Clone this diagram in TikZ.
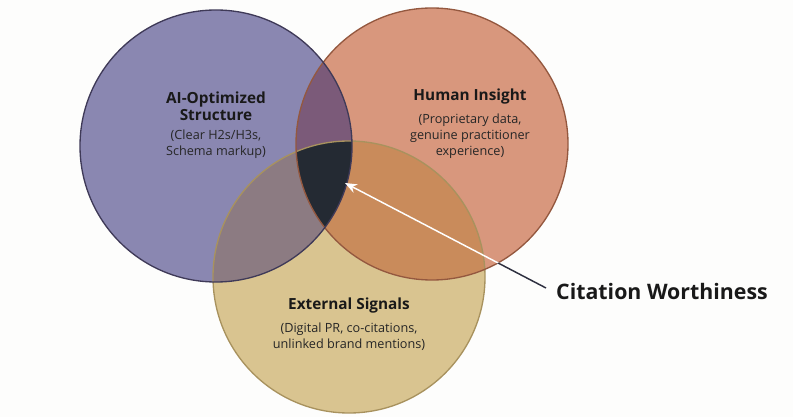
\documentclass[tikz,border=0pt]{standalone}
\usepackage{fontspec}
\setmainfont{Open Sans}
\usetikzlibrary{positioning}
\usetikzlibrary{arrows.meta}

\definecolor{paper}{HTML}{FDFDFC}
\definecolor{aiCol}{HTML}{8A87B1}
\definecolor{humCol}{HTML}{D8977D}
\definecolor{extCol}{HTML}{D9C490}
\definecolor{aiHum}{HTML}{7B5A79}
\definecolor{aiExt}{HTML}{8C7B82}
\definecolor{humExt}{HTML}{C98B5B}
\definecolor{coreCol}{HTML}{242A33}
\definecolor{aiRim}{HTML}{3F3A58}
\definecolor{humRim}{HTML}{94583F}
\definecolor{extRim}{HTML}{A8925E}
\definecolor{pointer}{HTML}{2E3040}

\tikzset{
  title/.style={font=\bfseries\fontsize{11.5}{13}\selectfont, text=black!90, align=center},
  sub/.style={font=\fontsize{9.5}{12}\selectfont, text=black!85, align=center},
  rim/.style={line width=1pt}
}

\begin{document}
\begin{tikzpicture}[x=0.75pt,y=-0.75pt]
  \fill[paper] (0,0) rectangle (793,417);
  \useasboundingbox (0,0) rectangle (793,417);
  % circle centres and radius
  \def\rad{136}
  \coordinate (ai) at (216,146);
  \coordinate (hum) at (432,144);
  \coordinate (ext) at (349,277);

  \fill[aiCol] (ai) circle (\rad);
  \fill[humCol] (hum) circle (\rad);
  \fill[extCol] (ext) circle (\rad);

  % pairwise overlaps
  \begin{scope}
    \clip (ai) circle (\rad);
    \fill[aiHum] (hum) circle (\rad);
    \fill[aiExt] (ext) circle (\rad);
  \end{scope}
  \begin{scope}
    \clip (hum) circle (\rad);
    \fill[humExt] (ext) circle (\rad);
  \end{scope}
  % core
  \begin{scope}
    \clip (ai) circle (\rad);
    \clip (hum) circle (\rad);
    \fill[coreCol] (ext) circle (\rad);
  \end{scope}

  \draw[rim, draw=extRim] (ext) circle (\rad);
  \draw[rim, draw=humRim] (hum) circle (\rad);
  \draw[rim, draw=aiRim] (ai) circle (\rad);

  % labels
  \node[title] (aiT) at (216,106) {AI-Optimized\\Structure};
  \node[sub, below=0pt of aiT] (aiS) {(Clear H2s/H3s,\\Schema markup)};
  \node[title] (humT) at (470,97) {Human Insight};
  \node[sub, below=0pt of humT] (humS) {(Proprietary data,\\genuine practitioner\\experience)};
  \node[title] (extT) at (349,306) {External Signals};
  \node[sub, below=0pt of extT] (extS) {(Digital PR, co-citations,\\unlinked brand mentions)};

  \node[font=\bfseries\fontsize{16}{19}\selectfont, text=black!90] (cite) at (662,292) {Citation Worthiness};
  \coordinate (core) at (345,183);
  \coordinate (tail) at (546,288);
  \draw[white, line width=1.1pt, -{Stealth[length=9pt,width=7pt]}] (tail) -- (core);
  % dark part of the pointer outside the circles
  \begin{scope}[even odd rule]
    \clip (0,0) rectangle (793,417) (hum) circle (\rad);
    \draw[pointer, line width=1.1pt] (tail) -- (core);
  \end{scope}
\end{tikzpicture}
\end{document}
